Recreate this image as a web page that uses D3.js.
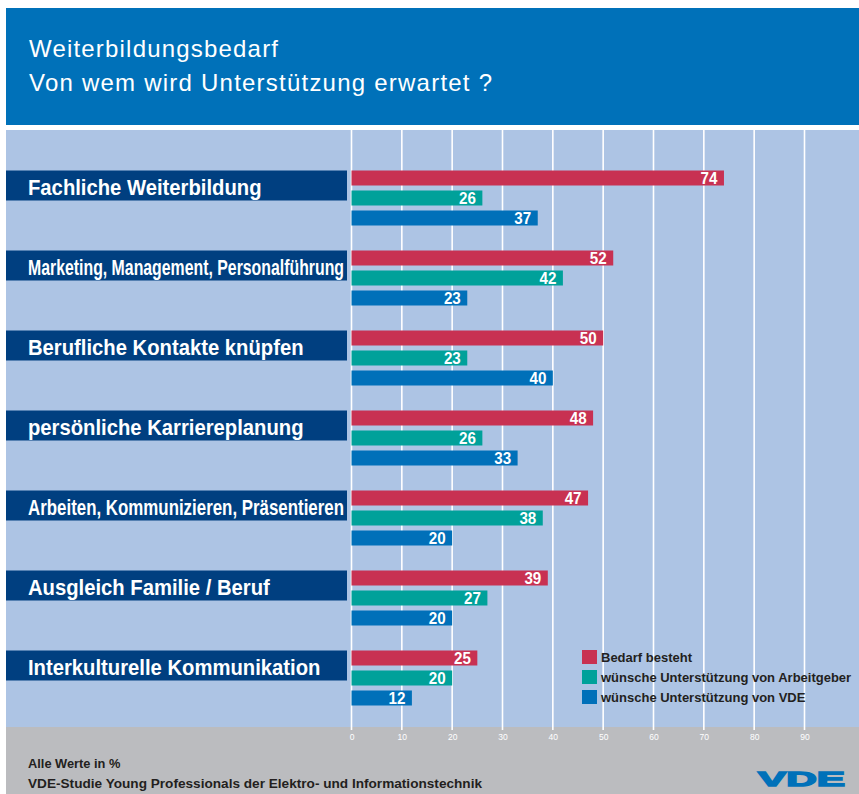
<!DOCTYPE html>
<html>
<head>
<meta charset="utf-8">
<script src="https://cdn.jsdelivr.net/npm/d3@7"></script>
<style>
  body { margin: 0; background: #fff; }
  #chart text { font-family: "Liberation Sans", Arial, sans-serif; }
</style>
</head>
<body>
<div id="chart"></div>
<script>
var categories = ["Fachliche Weiterbildung", "Marketing, Management, Personalführung", "Berufliche Kontakte knüpfen",
  "persönliche Karriereplanung", "Arbeiten, Kommunizieren, Präsentieren", "Ausgleich Familie / Beruf", "Interkulturelle Kommunikation"];

var bedarf = [74, 52, 50, 48, 47, 39, 25];
var arbeitgeber = [26, 42, 23, 26, 38, 27, 20];
var vde = [37, 23, 40, 33, 20, 20, 12];

var seriesNames = ["Bedarf besteht", "wünsche Unterstützung von Arbeitgeber", "wünsche Unterstützung von VDE"];
var seriesColors = ["#c83152", "#00a19a", "#0070b9"];

var ticks = [0, 10, 20, 30, 40, 50, 60, 70, 80, 90];

// squeeze text horizontally (no condensed font installed)
function squeeze(sel, k, maxW) {
  sel.each(function () {
    var w = this.getComputedTextLength() * k;
    if (maxW && w > maxW) w = maxW;
    d3.select(this).attr('textLength', w).attr('lengthAdjust', 'spacingAndGlyphs');
  });
}

function drawChart() {
  var width = 859, height = 794;
  var svg = d3.select('#chart').append('svg').attr('width', width).attr('height', height);

  // header
  svg.append('rect').attr('x', 6).attr('y', 8).attr('width', width - 6).attr('height', 117).attr('fill', '#0071b9');
  svg.append('text').attr('x', 29).attr('y', 57).attr('fill', '#fff').style('font-size', '24px')
    .attr('textLength', 249).attr('lengthAdjust', 'spacing')
    .text('Weiterbildungsbedarf');
  svg.append('text').attr('x', 29).attr('y', 91).attr('fill', '#fff').style('font-size', '24px')
    .attr('textLength', 463).attr('lengthAdjust', 'spacing')
    .text('Von wem wird Unterstützung erwartet ?');

  // panel + footer
  svg.append('rect').attr('x', 6).attr('y', 130).attr('width', width - 6).attr('height', 597).attr('fill', '#adc4e4');
  svg.append('rect').attr('x', 6).attr('y', 727).attr('width', width - 6).attr('height', 67).attr('fill', '#bbbcbf');

  var x = d3.scaleLinear().domain([0, 90]).range([351.5, 804.5]);
  var groupY = d3.scaleBand().domain(d3.range(categories.length)).range([170.5, 730.5]);
  var barY = d3.scaleBand().domain([0, 1, 2]).range([0, 60]).paddingInner(0.25).paddingOuter(0.125).align(0);

  // grid lines
  svg.append('g').selectAll('line').data(ticks).enter().append('line')
    .attr('x1', function (d) { return x(d); }).attr('x2', function (d) { return x(d); })
    .attr('y1', 130).attr('y2', 730)
    .attr('stroke', '#fff').attr('stroke-width', 1.6);

  // axis labels
  var axis = d3.axisBottom(x).tickValues(ticks).tickSize(0).tickPadding(0);
  var ax = svg.append('g').attr('transform', 'translate(0,' + 737 + ')').call(axis);
  ax.select('.domain').remove();
  ax.selectAll('text').attr('fill', '#fff').attr('dy', '0.35em').attr('y', 0)
    .style('font-size', '8.5px');

  // category labels
  var groups = svg.append('g').selectAll('g').data(categories).enter().append('g')
    .attr('transform', function (d, i) { return 'translate(0,' + groupY(i) + ')'; });
  groups.append('rect').attr('x', 6).attr('y', 0).attr('width', 341).attr('height', 30).attr('fill', '#003f80');
  groups.append('text').attr('x', 28).attr('y', 24).attr('fill', '#fff')
    .style('font-weight', 'bold').style('font-size', '22px').text(function (d) { return d; })
    .call(squeeze, 0.92, 316);

  var allSeries = [bedarf, arbeitgeber, vde];
  allSeries.forEach(function (vals, s) {
    var g = svg.append('g');
    g.selectAll('rect').data(vals).enter().append('rect')
      .attr('x', x(0)).attr('y', function (d, i) { return groupY(i) + barY(s); })
      .attr('width', function (d) { return x(d) - x(0); }).attr('height', barY.bandwidth())
      .attr('fill', seriesColors[s]);
    g.selectAll('text').data(vals).enter().append('text')
      .attr('x', function (d) { return x(d) - 6.5; }).attr('y', function (d, i) { return groupY(i) + barY(s) + 13.5; })
      .attr('text-anchor', 'end').attr('fill', '#fff').style('font-weight', 'bold').style('font-size', '16.5px')
      .text(function (d) { return d; })
      .call(squeeze, 0.92);
  });

  // legend
  var legend = svg.append('g').selectAll('g').data(seriesNames).enter().append('g')
    .attr('transform', function (d, i) { return 'translate(582,' + (650 + i * 20) + ')'; });
  legend.append('rect').attr('width', 15).attr('height', 14).attr('fill', function (d, i) { return seriesColors[i]; });
  legend.append('text').attr('x', 19).attr('y', 11.5).attr('fill', '#231f20')
    .style('font-weight', 'bold').style('font-size', '13px').text(function (d) { return d; });

  // footer
  svg.append('text').attr('x', 28).attr('y', 768).attr('fill', '#231f20').style('font-weight', 'bold').style('font-size', '13.5px')
    .text('Alle Werte in %')
    .call(squeeze, 0.95);
  svg.append('text').attr('x', 28).attr('y', 788).attr('fill', '#231f20').style('font-weight', 'bold').style('font-size', '13.5px')
    .attr('textLength', 454).attr('lengthAdjust', 'spacingAndGlyphs')
    .text('VDE-Studie Young Professionals der Elektro- und Informationstechnik');
  svg.append('text').attr('x', 758).attr('y', 786).attr('fill', '#0071b9')
    .style('font-weight', 'bold').style('font-size', '21px')
    .attr('stroke', '#0071b9').attr('stroke-width', 1.4)
    .attr('textLength', 87).attr('lengthAdjust', 'spacingAndGlyphs')
    .text('VDE');
}
drawChart();
</script>
</body>
</html>
